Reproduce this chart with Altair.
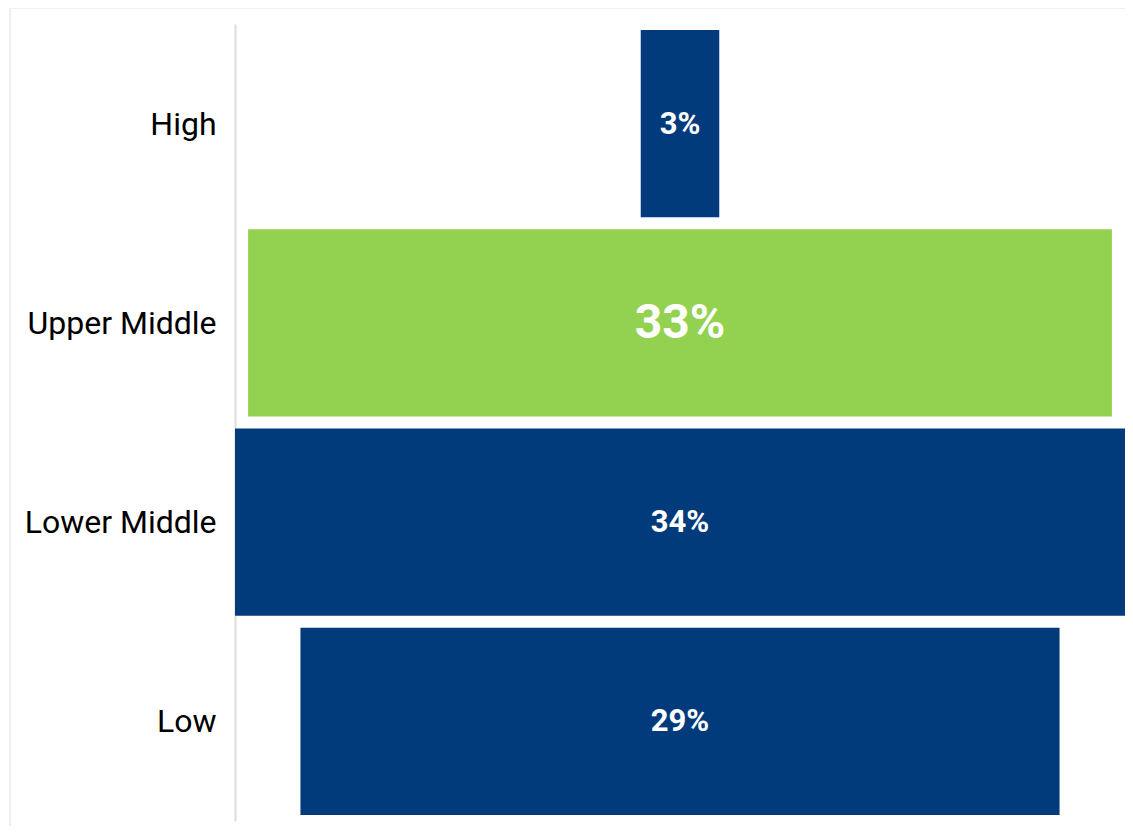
import altair as alt
import pandas as pd

categories = ["High", "Upper Middle", "Lower Middle", "Low"]
values = [3, 33, 34, 29]
labels = ["3%", "33%", "34%", "29%"]
highlight = [False, True, False, False]

df = pd.DataFrame({"cat": categories, "value": values, "label": labels, "hl": highlight})

W, H = 890, 797
BLUE = "#023B7C"
GREEN = "#93D150"

frame = alt.Chart(pd.DataFrame({"a": [0]})).mark_rect(
    fill="transparent", stroke="#efefef", strokeWidth=2
).encode(
    x=alt.value(-225), x2=alt.value(W + 40), y=alt.value(-16), y2=alt.value(H + 40)
)

base = alt.Chart(df).transform_calculate(lo="-datum.value/2", hi="datum.value/2")

yenc = alt.Y(
    "cat:N",
    sort=categories,
    scale=alt.Scale(paddingInner=0.06, paddingOuter=0.03),
    axis=alt.Axis(
        title=None,
        ticks=False,
        tickSize=0,
        labelPadding=19,
        labelFont="Roboto",
        labelFontSize=32,
        labelLimit=400,
        labelColor="#000000",
        labelOffset=1,
        domainColor="#dddddd",
        domainWidth=2,
        grid=False,
    ),
)

xscale = alt.Scale(domain=[-17, 17], nice=False, zero=False)

bars = base.mark_bar().encode(
    y=yenc,
    x=alt.X("lo:Q", scale=xscale, axis=None),
    x2="hi:Q",
    color=alt.condition("datum.hl", alt.value(GREEN), alt.value(BLUE)),
)

text = base.mark_text(
    color="white", font="Roboto", fontWeight="bold", baseline="middle", align="center", dy=1
).encode(
    y=alt.Y("cat:N", sort=categories),
    x=alt.value(W / 2),
    text="label:N",
    size=alt.condition("datum.hl", alt.value(48), alt.value(31)),
)

chart = alt.layer(frame, bars, text).properties(
    width=W,
    height=H,
    background="white",
    autosize=alt.AutoSizeParams(type="none"),
    padding={"left": 227, "top": 16, "right": 0, "bottom": 5},
).configure_view(strokeWidth=0, stroke="transparent")

chart.save("out.html", embed_options={"renderer": "svg", "actions": False})
